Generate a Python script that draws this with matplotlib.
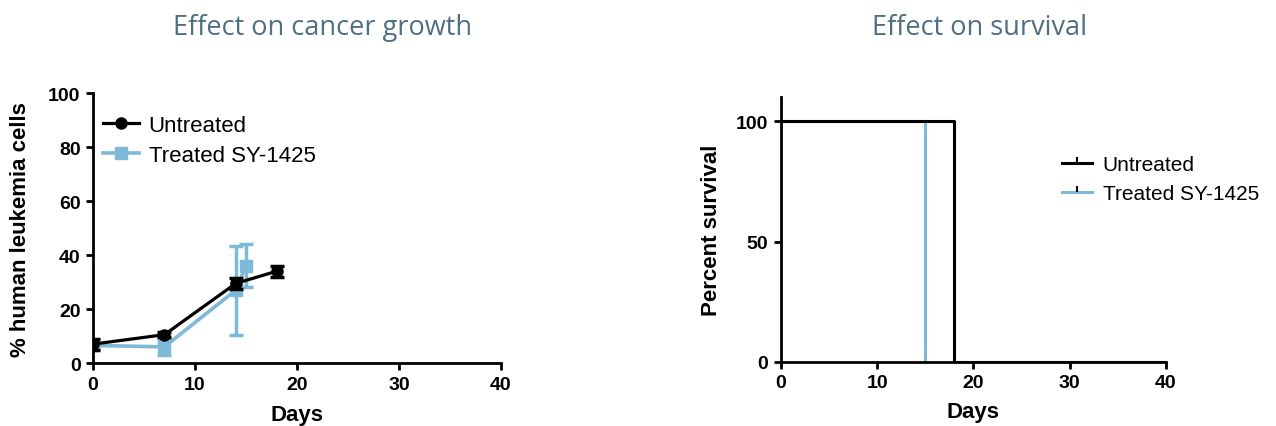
import matplotlib
matplotlib.use('Agg')
import matplotlib.pyplot as plt
from matplotlib.lines import Line2D

# growth data (% human leukemia cells)
untreated_days = [0, 7, 14, 18]
untreated_pct = [7, 10.5, 29.5, 34]
untreated_err = [2, 1, 2, 2]

treated_days = [0, 7, 14, 15]
treated_pct = [6.5, 6, 27, 36]
treated_err = [1, 3, 16.5, 8]

# survival data
untreated_surv_days = [0, 18, 18, 40]
untreated_surv = [100, 100, 0, 0]
treated_surv_days = [0, 15, 15]
treated_surv = [100, 100, 0]

BLUE = '#7db9d9'
TITLE_COLOR = '#4f6f82'

plt.rcParams['font.family'] = ['Liberation Sans', 'DejaVu Sans']

fig = plt.figure(figsize=(12.76, 4.27), dpi=100)

# Left: effect on cancer growth
ax1 = fig.add_axes([0.0729, 0.1475, 0.3197, 0.632])
ax1.errorbar(treated_days, treated_pct, yerr=treated_err, fmt='none',
             ecolor=BLUE, capsize=5, capthick=2.5, elinewidth=2.5, zorder=2)
ax1.plot(treated_days, treated_pct, color=BLUE, marker='s', markersize=8,
         linewidth=2.6, label='Treated SY-1425', zorder=2)
ax1.errorbar(untreated_days, untreated_pct, yerr=untreated_err, fmt='none',
             ecolor='black', capsize=5, capthick=2.5, elinewidth=2.5, zorder=3)
ax1.plot(untreated_days, untreated_pct, color='black', marker='o', markersize=8,
         linewidth=2.3, label='Untreated', zorder=3)
ax1.set_xlim(0, 40)
ax1.set_ylim(0, 100)
ax1.set_xticks([0, 10, 20, 30, 40])
ax1.set_yticks([0, 20, 40, 60, 80, 100])
ax1.set_xlabel('Days', fontsize=16, fontweight='bold', labelpad=8)
ax1.set_ylabel('% human leukemia cells', fontsize=16, fontweight='bold', labelpad=12)
h, l = ax1.get_legend_handles_labels()
ax1.legend(h[::-1], l[::-1], loc='upper left', bbox_to_anchor=(0.0245, 0.92),
           frameon=False, fontsize=16, handlelength=1.6, handletextpad=0.45,
           labelspacing=0.4, borderaxespad=0, borderpad=0)

# Right: effect on survival
ax2 = fig.add_axes([0.612, 0.1499, 0.3017, 0.6206])
ax2.plot(treated_surv_days, treated_surv, color=BLUE, linewidth=2.2, zorder=2)
ax2.plot(untreated_surv_days, untreated_surv, color='black', linewidth=2.2, zorder=3)
ax2.set_xlim(0, 40)
ax2.set_ylim(0, 110)
ax2.set_xticks([0, 10, 20, 30, 40])
ax2.set_yticks([0, 50, 100])
ax2.set_xlabel('Days', fontsize=16, fontweight='bold', labelpad=7)
ax2.set_ylabel('Percent survival', fontsize=16, fontweight='bold', labelpad=10)
surv_handles = [
    Line2D([], [], color='black', linewidth=2.2, marker=2, markersize=4,
           markeredgewidth=1.5),
    Line2D([], [], color=BLUE, linewidth=2.2, marker=2, markersize=4,
           markeredgewidth=1.5, markeredgecolor='black'),
]
ax2.legend(surv_handles, ['Untreated', 'Treated SY-1425'], loc='center left',
           bbox_to_anchor=(0.73, 0.69), frameon=False, fontsize=15,
           handlelength=1.45, handletextpad=0.5, labelspacing=0.45,
           borderaxespad=0, borderpad=0)

for ax in (ax1, ax2):
    ax.spines['top'].set_visible(False)
    ax.spines['right'].set_visible(False)
    ax.spines['left'].set_linewidth(2)
    ax.spines['bottom'].set_linewidth(2)
    ax.tick_params(direction='out', width=2, length=5, labelsize=14, pad=4)
    for t in ax.get_xticklabels() + ax.get_yticklabels():
        t.set_fontweight('bold')

fig.text(0.253, 0.935, 'Effect on cancer growth', ha='center', va='center',
         fontsize=19.5, color=TITLE_COLOR, family=['Open Sans', 'DejaVu Sans'])
fig.text(0.768, 0.935, 'Effect on survival', ha='center', va='center',
         fontsize=19.5, color=TITLE_COLOR, family=['Open Sans', 'DejaVu Sans'])

fig.savefig('out.png', dpi=100)
